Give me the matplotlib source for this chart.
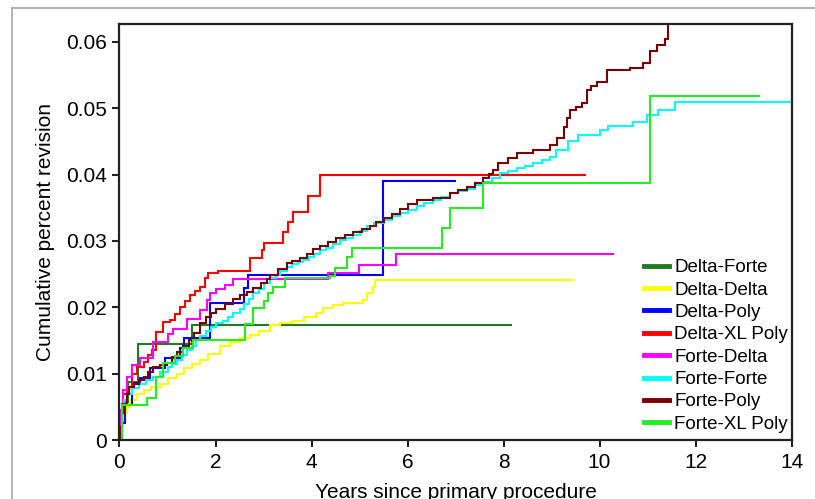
import matplotlib
matplotlib.use("Agg")
import matplotlib.pyplot as plt
from matplotlib.lines import Line2D
from matplotlib.ticker import FuncFormatter

plt.rcParams['font.family'] = ['Liberation Sans', 'DejaVu Sans']

labels = ["Delta-Forte", "Delta-Delta", "Delta-Poly", "Delta-XL Poly",
          "Forte-Delta", "Forte-Forte", "Forte-Poly", "Forte-XL Poly"]
colors = ["#1e7d1e", "#ffff00", "#0000ff", "#ff0000",
          "#ff00ff", "#00ffff", "#7a0000", "#22ee22"]

delta_forte_t = [0, 0.03, 0.08, 0.18, 0.39, 1.5, 8.16]
delta_forte_v = [0, 0.0029, 0.0058, 0.0087, 0.0144, 0.0173, 0.0173]

delta_delta_t = [0, 0.03, 0.08, 0.15, 0.22, 0.36, 0.5, 0.65, 0.84, 1.0, 1.19, 1.35, 1.5, 1.68,
                 1.85, 2.09, 2.3, 2.51, 2.72, 2.9, 3.14, 3.35, 3.6, 3.85, 4.1, 4.24, 4.45,
                 4.66, 5.07, 5.15, 5.28, 5.32, 9.45]
delta_delta_v = [0, 0.002, 0.004, 0.005, 0.006, 0.007, 0.0075, 0.008, 0.0085, 0.0093, 0.010,
                 0.0108, 0.0115, 0.012, 0.013, 0.0141, 0.0147, 0.0153, 0.0158, 0.0165, 0.0173,
                 0.0176, 0.018, 0.0185, 0.0191, 0.0199, 0.0203, 0.0206, 0.0211, 0.0221, 0.0231,
                 0.0241, 0.0241]

delta_poly_t = [0, 0.02, 0.11, 0.25, 0.43, 0.64, 0.95, 1.26, 1.35, 1.89, 2.59, 2.68, 5.49, 6.99]
delta_poly_v = [0, 0.0026, 0.0052, 0.0086, 0.0093, 0.0108, 0.0123, 0.0138, 0.0153, 0.0206,
                0.0229, 0.0249, 0.039, 0.039]

delta_xl_t = [0, 0.02, 0.05, 0.08, 0.15, 0.25, 0.36, 0.5, 0.6, 0.67, 0.77, 0.91, 1.05, 1.15,
              1.26, 1.36, 1.47, 1.58, 1.68, 1.78, 1.85, 2.06, 2.72, 2.96, 3.0, 3.41, 3.52,
              3.62, 3.93, 4.18, 9.7]
delta_xl_v = [0, 0.003, 0.0055, 0.007, 0.008, 0.01, 0.011, 0.0118, 0.0128, 0.0136, 0.0163,
              0.0178, 0.0181, 0.019, 0.0201, 0.021, 0.0219, 0.0225, 0.0231, 0.0244, 0.0251,
              0.0255, 0.0274, 0.0286, 0.0297, 0.0314, 0.0328, 0.0344, 0.0368, 0.040, 0.040]

forte_delta_t = [0, 0.03, 0.08, 0.15, 0.25, 0.43, 0.7, 1.02, 1.12, 1.4, 1.68, 1.82, 1.89,
                 2.02, 2.2, 2.37, 4.35, 4.98, 5.75, 10.28]
forte_delta_v = [0, 0.0045, 0.0075, 0.0095, 0.0113, 0.0123, 0.0148, 0.016, 0.0168, 0.0182,
                 0.0196, 0.0211, 0.0221, 0.0228, 0.0234, 0.0242, 0.0252, 0.0264, 0.0281, 0.0281]

forte_forte_t = [0, 0.02, 0.05, 0.1, 0.15, 0.25, 0.4, 0.55, 0.7, 0.85, 1.0, 1.1, 1.2, 1.3, 1.4,
                 1.5, 1.6, 1.68, 1.8, 1.9, 2.02, 2.15, 2.25, 2.37, 2.5, 2.6, 2.7, 2.79, 2.9, 3.0,
                 3.14, 3.25, 3.35, 3.48, 3.6, 3.72, 3.83, 3.95, 4.05, 4.18, 4.3, 4.45, 4.59,
                 4.72, 4.87, 5.0, 5.15, 5.3, 5.5, 5.67, 5.84, 6.0, 6.19, 6.35, 6.54, 6.7, 6.89,
                 7.05, 7.23, 7.4, 7.58, 7.75, 7.93, 8.1, 8.28, 8.45, 8.62, 8.8, 8.97, 9.1, 9.35,
                 9.56, 10.0, 10.18, 10.7, 10.98, 11.22, 11.57, 14.0]
forte_forte_v = [0, 0.002, 0.004, 0.006, 0.007, 0.0078, 0.0085, 0.009, 0.0095, 0.0102, 0.011,
                 0.0115, 0.012, 0.0128, 0.0135, 0.0142, 0.015, 0.0156, 0.0165, 0.017, 0.0176,
                 0.018, 0.0186, 0.0191, 0.0198, 0.0205, 0.0213, 0.0221, 0.0228, 0.0236, 0.0244,
                 0.0249, 0.0255, 0.0261, 0.0265, 0.0268, 0.0271, 0.0276, 0.0281, 0.0286, 0.029,
                 0.0295, 0.0302, 0.0305, 0.0309, 0.0315, 0.0322, 0.0327, 0.0332, 0.0337, 0.0342,
                 0.0347, 0.0352, 0.0357, 0.0362, 0.0367, 0.0372, 0.0375, 0.0379, 0.0384, 0.0389,
                 0.0395, 0.0402, 0.0406, 0.041, 0.0413, 0.0417, 0.0422, 0.0427, 0.0437, 0.045,
                 0.046, 0.0467, 0.0473, 0.048, 0.049, 0.0497, 0.051, 0.051]

forte_poly_t = [0, 0.02, 0.05, 0.1, 0.15, 0.2, 0.3, 0.4, 0.5, 0.6, 0.7, 0.85, 0.98, 1.1, 1.2,
                1.33, 1.45, 1.55, 1.68, 1.8, 1.9, 2.02, 2.2, 2.37, 2.5, 2.65, 2.79, 2.95, 3.07,
                3.14, 3.3, 3.48, 3.6, 3.76, 3.9, 4.03, 4.18, 4.35, 4.52, 4.7, 4.87, 5.05, 5.22,
                5.35, 5.5, 5.67, 5.84, 6.0, 6.19, 6.54, 6.89, 7.05, 7.23, 7.4, 7.58, 7.7, 7.79,
                7.89, 8.1, 8.28, 8.62, 8.97, 9.12, 9.25, 9.32, 9.39, 9.52, 9.63, 9.73, 9.82,
                9.94, 10.15, 10.64, 10.91, 11.05, 11.2, 11.36, 11.43]
forte_poly_v = [0, 0.002, 0.004, 0.0055, 0.007, 0.008, 0.0085, 0.009, 0.0095, 0.0102, 0.011,
                0.0113, 0.0116, 0.0125, 0.0132, 0.0141, 0.015, 0.0162, 0.0176, 0.0186, 0.0192,
                0.0198, 0.0205, 0.0212, 0.0218, 0.0223, 0.0229, 0.0236, 0.0242, 0.0249, 0.0258,
                0.0267, 0.027, 0.0274, 0.0281, 0.0288, 0.0292, 0.0298, 0.0304, 0.0309, 0.0313,
                0.0318, 0.0322, 0.0328, 0.0334, 0.0341, 0.0348, 0.0355, 0.0362, 0.0364, 0.0372,
                0.0377, 0.0382, 0.0388, 0.0395, 0.0401, 0.0407, 0.0417, 0.0425, 0.0432, 0.0437,
                0.0445, 0.0455, 0.0472, 0.0485, 0.0497, 0.0502, 0.0508, 0.0528, 0.0533, 0.054,
                0.0558, 0.056, 0.0568, 0.0586, 0.0595, 0.0604, 0.065]

forte_xl_t = [0, 0.05, 0.57, 0.77, 0.91, 1.16, 1.33, 1.54, 2.62, 2.79, 3.0, 3.1, 3.2, 3.45,
              4.38, 4.49, 4.73, 4.84, 6.71, 6.89, 7.58, 11.05, 13.33]
forte_xl_v = [0, 0.0053, 0.0063, 0.0095, 0.0116, 0.0126, 0.0138, 0.0151, 0.0175, 0.0199,
              0.0209, 0.0221, 0.0231, 0.0244, 0.0247, 0.0259, 0.0276, 0.029, 0.0319, 0.0349,
              0.0388, 0.0518, 0.0518]

series = [(delta_forte_t, delta_forte_v), (delta_delta_t, delta_delta_v),
          (delta_poly_t, delta_poly_v), (delta_xl_t, delta_xl_v),
          (forte_delta_t, forte_delta_v), (forte_forte_t, forte_forte_v),
          (forte_poly_t, forte_poly_v), (forte_xl_t, forte_xl_v)]

xticks = [0, 2, 4, 6, 8, 10, 12, 14]
yticks = [0, 0.01, 0.02, 0.03, 0.04, 0.05, 0.06]

W, H = 815, 499
fig = plt.figure(figsize=(W / 100, H / 100), dpi=100)
ax = fig.add_axes([119.5 / W, 1 - 440 / H, (791.5 - 119.5) / W, (440 - 24) / H])

for (t, v), c in zip(series, colors):
    ax.plot(t, v, drawstyle='steps-post', color=c, lw=1.5, solid_joinstyle='miter')

ax.set_xlim(0, 14)
ax.set_ylim(0, 0.0627)
ax.set_xticks(xticks)
ax.set_yticks(yticks)
ax.yaxis.set_major_formatter(FuncFormatter(lambda v, p: "0" if abs(v) < 1e-12 else f"{v:.2f}"))
ax.tick_params(direction='out', length=5, width=1.5, labelsize=15, color='#222222', pad=4)
for s in ax.spines.values():
    s.set_linewidth(1.6)
    s.set_color('#222222')

ax.set_ylabel("Cumulative percent revision", fontsize=15, labelpad=8)
fig.text(455.5 / W, 1 - 497.5 / H, "Years since primary procedure", fontsize=15,
         ha='center', va='baseline')

handles = [Line2D([0], [0], color=c, lw=3.5) for c in colors]
ax.legend(handles, labels, loc='upper left', bbox_to_anchor=(631 / W, 1 - 246 / H),
          bbox_transform=fig.transFigure, frameon=False, fontsize=13.5,
          handlelength=1.3, handletextpad=0.3, labelspacing=0.28, borderpad=0.2)

# outer grey border
fig.add_artist(Line2D([12 / W, 1], [1 - 8 / H, 1 - 8 / H], color='#a8a8a8', lw=1.2,
                      transform=fig.transFigure))
fig.add_artist(Line2D([12 / W, 12 / W], [0, 1 - 8 / H], color='#a8a8a8', lw=1.2,
                      transform=fig.transFigure))

fig.savefig("out.png", dpi=100)
